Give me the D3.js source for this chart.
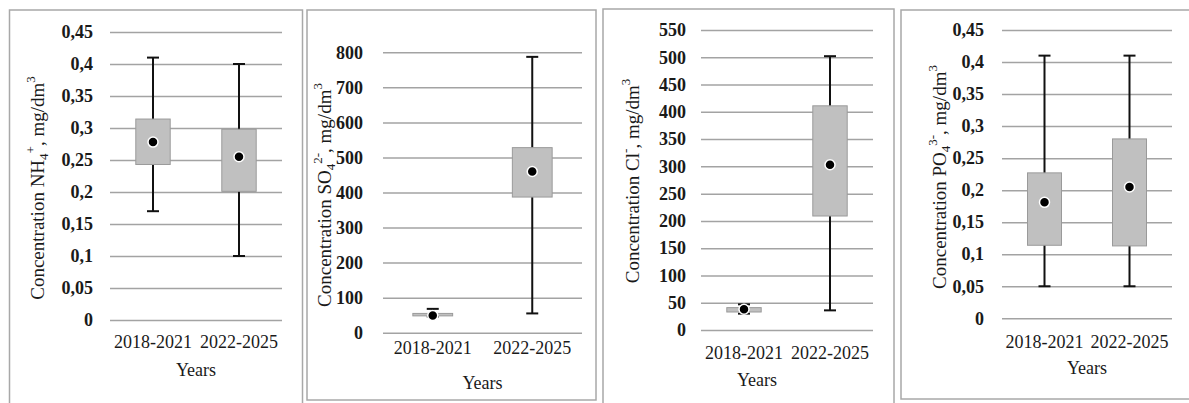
<!DOCTYPE html>
<html><head><meta charset="utf-8">
<script src="https://cdnjs.cloudflare.com/ajax/libs/d3/7.8.5/d3.min.js"></script>
</head>
<body style="margin:0;padding:0;background:#fff;"><svg id="c" width="1189" height="403" style="display:block;font-family:'Liberation Serif','Times New Roman',Tinos,'DejaVu Serif';"></svg>
<script>
// ---- data ----
const categories = ["2018-2021", "2022-2025"];
const xTitle = "Years";

// box stats per period: [2018-2021, 2022-2025]
const nh4Min  = [0.17, 0.10];
const nh4Q1   = [0.243, 0.201];
const nh4Mean = [0.278, 0.255];
const nh4Q3   = [0.314, 0.298];
const nh4Max  = [0.41, 0.40];
const nh4Ticks = [0, 0.05, 0.1, 0.15, 0.2, 0.25, 0.3, 0.35, 0.4, 0.45];

const so4Min  = [46, 55];
const so4Q1   = [48, 387];
const so4Mean = [49, 460];
const so4Q3   = [55, 528];
const so4Max  = [68, 787];
const so4Ticks = [0, 100, 200, 300, 400, 500, 600, 700, 800];

const clMin  = [30, 36];
const clQ1   = [33, 209];
const clMean = [38, 303];
const clQ3   = [41, 411];
const clMax  = [47, 502];
const clTicks = [0, 50, 100, 150, 200, 250, 300, 350, 400, 450, 500, 550];

const po4Min  = [0.05, 0.05];
const po4Q1   = [0.114, 0.113];
const po4Mean = [0.181, 0.205];
const po4Q3   = [0.227, 0.280];
const po4Max  = [0.41, 0.41];
const po4Ticks = [0, 0.05, 0.1, 0.15, 0.2, 0.25, 0.3, 0.35, 0.4, 0.45];

// ---- layout ----
const FONT = "'Liberation Serif', 'Times New Roman', Tinos, 'DejaVu Serif'";
const svg = d3.select("#c");
const fmt = v => String(v).replace(".", ",");

const panels = [
  { frame:[9.5,10,293,400], plot:[110,282,32,320], ticks:nh4Ticks,
    stats:[nh4Min,nh4Q1,nh4Mean,nh4Q3,nh4Max], labX:93, catY:348, yearsY:376, yearsX:null,
    title:[["Concentration NH",0],["4",1],["+",2],[", mg/dm",0],["3",2]], tX:44, tY:188 },
  { frame:[307,10,289,390], plot:[383,582,52.3,332.7], ticks:so4Ticks,
    stats:[so4Min,so4Q1,so4Mean,so4Q3,so4Max], labX:363, catY:354, yearsY:389, yearsX:null,
    title:[["Concentration SO",0],["4",1],["2-",2],[", mg/dm",0],["3",2]], tX:331, tY:195 },
  { frame:[603,9,291,400], plot:[701,873,30,330], ticks:clTicks,
    stats:[clMin,clQ1,clMean,clQ3,clMax], labX:686, catY:359, yearsY:386, yearsX:757,
    title:[["Concentration Cl",0],["-",2],[",  mg/dm",0],["3",2]], tX:639, tY:181 },
  { frame:[901,10,300,389], plot:[1002,1172,30,318.3], ticks:po4Ticks,
    stats:[po4Min,po4Q1,po4Mean,po4Q3,po4Max], labX:984, catY:348, yearsY:374, yearsX:null,
    title:[["Concentration PO",0],["4",1],["3-",2],[", mg/dm",0],["3",2]], tX:946, tY:177 }
];

const gridCol = "#a3a3a3";
const txt = sel => sel.style("font-family", FONT);

panels.forEach(p => {
  const [fx,fy,fw,fh] = p.frame;
  svg.append("rect").attr("x",fx).attr("y",fy).attr("width",fw).attr("height",fh)
     .attr("fill","none").attr("stroke","#a8a8a8").attr("stroke-width",1.5);

  const [x0,x1,yTop,yBot] = p.plot;
  const y = d3.scaleLinear().domain([0, d3.max(p.ticks)]).range([yBot, yTop]);
  const x = d3.scaleBand().domain(categories).range([x0,x1]).padding(0);

  // gridlines + tick labels via axis
  const ax = svg.append("g").attr("transform",`translate(${x0},0)`)
    .call(d3.axisLeft(y).tickValues(p.ticks).tickFormat(fmt).tickSize(-(x1-x0)).tickPadding(x0-p.labX));
  ax.attr("font-family", FONT).attr("font-size", 18);
  ax.select(".domain").remove();
  ax.selectAll("line").attr("stroke",gridCol).attr("stroke-width",1.5);
  ax.selectAll("text").call(txt).attr("font-size",18)
    .attr("font-weight","bold").attr("fill","#1a1a1a");

  // category labels
  const bx = svg.append("g").attr("transform",`translate(0,${yBot})`)
    .call(d3.axisBottom(x).tickSize(0));
  bx.attr("font-family", FONT).attr("font-size", 18);
  bx.select(".domain").remove();
  bx.selectAll("text").call(txt).attr("font-size",18)
    .attr("fill","#1a1a1a").attr("dy",null).attr("y",p.catY - yBot);

  svg.append("text").attr("x", p.yearsX ?? (x0+x1)/2).attr("y",p.yearsY)
    .attr("text-anchor","middle").call(txt).attr("font-size",18)
    .attr("fill","#1a1a1a").text(xTitle);

  // y title
  const t = svg.append("text").attr("transform",`translate(${p.tX},${p.tY}) rotate(-90)`)
    .attr("text-anchor","middle").call(txt).attr("font-size",19).attr("fill","#1a1a1a");
  let off = 0;
  p.title.forEach(([s,k]) => {
    const ts = t.append("tspan").text(s);
    const target = k===1 ? 4 : k===2 ? -9 : 0;
    if (k!==0) ts.attr("font-size",13);
    ts.attr("dy", target - off);
    off = target;
  });

  // boxes
  const [mn,q1,mean,q3,mx] = p.stats;
  const bw = x.bandwidth()*0.4;
  const cap = 12;
  categories.forEach((c,i) => {
    const cx = x(c) + x.bandwidth()/2;
    const g = svg.append("g");
    g.append("line").attr("x1",cx).attr("x2",cx).attr("y1",y(mx[i])).attr("y2",y(mn[i]))
      .attr("stroke","#111").attr("stroke-width",2);
    [mx[i],mn[i]].forEach(v => g.append("line").attr("x1",cx-cap/2).attr("x2",cx+cap/2)
      .attr("y1",y(v)).attr("y2",y(v)).attr("stroke","#111").attr("stroke-width",2));
    g.append("rect").attr("x",cx-bw/2).attr("width",bw).attr("y",y(q3[i]))
      .attr("height",Math.max(1,y(q1[i])-y(q3[i])))
      .attr("fill","#c0c0c0").attr("stroke","#9a9a9a").attr("stroke-width",1);
    g.append("circle").attr("cx",cx).attr("cy",y(mean[i])).attr("r",5)
      .attr("fill","#000").attr("stroke","#fff").attr("stroke-width",1.5);
  });
});
</script></body></html>
